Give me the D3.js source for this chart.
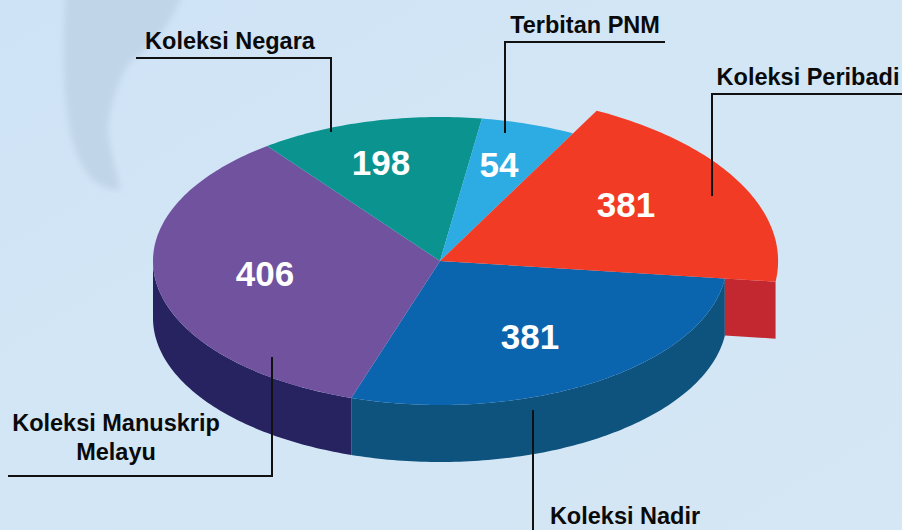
<!DOCTYPE html>
<html><head><meta charset="utf-8">
<style>html,body{margin:0;padding:0;background:#d3e5f4}svg{display:block}text{font-family:"Liberation Sans",Arial,sans-serif;font-weight:700}</style>
<script src="https://cdn.jsdelivr.net/npm/d3@7"></script></head><body>
<script>
const categories = ["Koleksi Peribadi","Koleksi Nadir","Koleksi Manuskrip Melayu","Koleksi Negara","Terbitan PNM"];
const values = [381,381,406,198,54];
// Angular sweeps as actually drawn in the picture (degrees); the picture's slices are not proportional to the printed values.
const drawnSweeps = [69.4,101,125,45.4,19.2];
const topColors = ["#f23b25","#0b65ae","#70529f","#0b948f","#2dabe3"];
const sideColors = ["#c32831","#0e527e","#272361","#0b948f","#2dabe3"];
const explode = [1.178,1,1,1,1];
const W=902,H=530,cx=440,cy=261,rx=287,ry=144,depth=57,startDeg=27.6;
const svg=d3.select("body").append("svg").attr("width",W).attr("height",H);
const defs=svg.append("defs");
const g=defs.append("linearGradient").attr("id","bg").attr("x1",0).attr("y1",0).attr("x2",1).attr("y2",1);
[[0,"#cfe3f7"],[.45,"#d2e6f5"],[1,"#d5e6f4"]].forEach(s=>g.append("stop").attr("offset",s[0]).attr("stop-color",s[1]));
defs.append("filter").attr("id","blur").append("feGaussianBlur").attr("stdDeviation",3);
svg.append("rect").attr("width",W).attr("height",H).attr("fill","url(#bg)");
// faint map backdrop
svg.append("path").attr("d","M66,-10L185,-10C170,25 155,45 130,62C118,80 112,100 108,125C108,150 118,170 120,190C100,190 85,178 75,150C66,120 60,70 66,-10Z")
  .attr("fill","#c1d5e8").attr("filter","url(#blur)");

const sx=d3.scaleLinear().domain([-1,1]).range([cx-rx,cx+rx]);
const sy=d3.scaleLinear().domain([-1,1]).range([cy-ry,cy+ry]);
const pie=d3.pie().sort(null).value((d,i)=>drawnSweeps[i]).startAngle(startDeg*Math.PI/180).endAngle((startDeg+360)*Math.PI/180);
const arcs=pie(values);
const pt=(a,k=1,dy=0)=>[sx(k*Math.sin(a)),sy(-k*Math.cos(a))+dy];
const line=d3.line();
const steps=(a0,a1)=>{const n=Math.max(2,Math.ceil((a1-a0)*60));return d3.range(n+1).map(i=>a0+(a1-a0)*i/n);};
const sideG=svg.append("g"),topG=svg.append("g");
arcs.forEach((d,i)=>{
  const a0=Math.max(d.startAngle,Math.PI/2),a1=Math.min(d.endAngle,Math.PI*1.5);
  if(explode[i]===1&&a1>a0){
    const ang=steps(a0,a1);
    const p=[...ang.map(a=>pt(a)),...ang.slice().reverse().map(a=>pt(a,1,depth))];
    sideG.append("path").attr("d",line(p)+"Z").attr("fill",sideColors[i]);
  }
});
arcs.forEach((d,i)=>{
  if(explode[i]!==1)return;
  topG.append("path").attr("d",line([[cx,cy],...steps(d.startAngle,d.endAngle).map(a=>pt(a))])+"Z").attr("fill",topColors[i]);
});
arcs.forEach((d,i)=>{
  if(explode[i]===1)return;
  const e=pt(d.endAngle),o=pt(d.endAngle,explode[i]);
  sideG.append("path").attr("d",line([e,o,[o[0],o[1]+depth],[e[0],e[1]+depth]])+"Z").attr("fill",sideColors[i]);
  topG.append("path").attr("d",line([[cx,cy],...steps(d.startAngle,d.endAngle).map(a=>pt(a,explode[i]))])+"Z").attr("fill",topColors[i]);
});
const valuePos=[[626,204],[530,336],[265,273],[381,162],[499,164]];
svg.append("g").selectAll("text").data(values).join("text")
  .attr("x",(d,i)=>valuePos[i][0]).attr("y",(d,i)=>valuePos[i][1]).attr("dy","0.36em")
  .attr("text-anchor","middle").attr("font-size",35).attr("fill","#fff").text(d=>d);
const leaders=[[[902,94],[712,94],[712,196]],[[533,410],[533,530]],[[8,476],[272,476],[272,357]],[[136,58],[331,58],[331,132]],[[665,42],[505,42],[505,133]]];
svg.append("g").selectAll("path").data(leaders).join("path").attr("d",d=>line(d)).attr("fill","none").attr("stroke","#111").attr("stroke-width",2);
const labelLines=[["Koleksi Peribadi"],["Koleksi Nadir"],["Koleksi Manuskrip","Melayu"],["Koleksi Negara"],["Terbitan PNM"]];
const labelPos=[[808,77],[625,516],[116,423],[230,41],[585,25]];
const lg=svg.append("g");
labelLines.forEach((ls,i)=>ls.forEach((t,j)=>lg.append("text").attr("x",labelPos[i][0]).attr("y",labelPos[i][1]+j*29).attr("dy","0.35em").attr("text-anchor","middle").attr("font-size",23.5).attr("fill","#0a0a0a").text(t)));
</script></body></html>
